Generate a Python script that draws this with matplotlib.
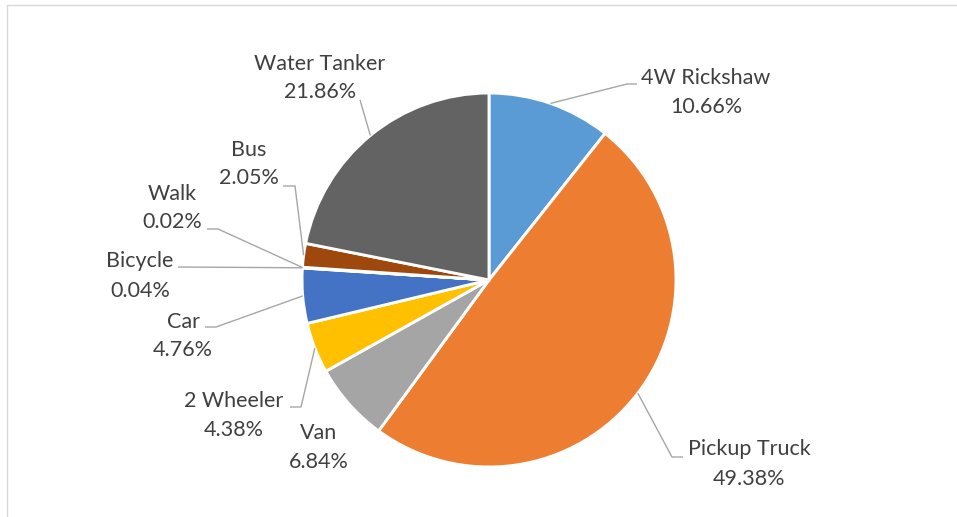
import numpy as np
import matplotlib.pyplot as plt

# transport mode shares (%), clockwise from 12 o'clock
modes = ["4W Rickshaw", "Pickup Truck", "Van", "2 Wheeler", "Car",
         "Bicycle", "Walk", "Bus", "Water Tanker"]
shares = [10.66, 49.38, 6.84, 4.38, 4.76, 0.04, 0.02, 2.05, 21.86]
colors = ["#5B9BD5", "#ED7D31", "#A5A5A5", "#FFC000", "#4472C4",
          "#70AD47", "#264478", "#9E480E", "#636363"]

W, H = 957, 517
cx, cy, r = 489, 280, 187   # pie centre and radius in pixels (y down)

# label layout in pixels: block centre x, first line y
label_pos = [(706, 78), (749, 449), (319, 433), (234, 401), (183, 322),
             (140, 261), (172, 194), (249, 150), (320, 64)]
line_gap = [29, 30, 29, 29, 28, 30, 28, 28, 28]
# leader start and elbow points (None = no leader)
leaders = [((637, 84), (627, 84)), ((683, 457), (672, 457)), None,
           ((290, 407), (301, 407)), ((205, 327), (216, 327)),
           ((178, 267), (178, 267)), ((207, 229), (218, 229)),
           ((283, 186), (295, 186)), ((360, 100), (360, 100))]

plt.rcParams['font.family'] = ['Lato', 'DejaVu Sans']

fig = plt.figure(figsize=(W / 100, H / 100), dpi=100)
ax = fig.add_axes([0, 0, 1, 1])

ax.pie(shares, colors=colors, startangle=90, counterclock=False,
       center=(cx, H - cy), radius=r,
       wedgeprops=dict(edgecolor='white', linewidth=2.1))
ax.set_xlim(0, W)
ax.set_ylim(0, H)
ax.set_aspect('auto')
ax.axis('off')

# chart border (only top and left visible)
ax.plot([6.5, 6.5, W], [0, H - 4.5, H - 4.5], color='#D9D9D9', lw=1.0)

text_color = '#404040'
cum = np.cumsum(shares) - np.array(shares) / 2
for i, name in enumerate(modes):
    lx, ly = label_pos[i]
    ax.text(lx, H - ly, name, ha='center', va='center', fontsize=15.5,
            color=text_color)
    ax.text(lx, H - ly - line_gap[i], f"{shares[i]:.2f}%", ha='center',
            va='center', fontsize=15.5, color=text_color)
    if leaders[i] is None:
        continue
    theta = np.deg2rad(cum[i] / 100 * 360)
    ex = cx + r * np.sin(theta)
    ey = cy - r * np.cos(theta)
    (sx, sy), (kx, ky) = leaders[i]
    ax.plot([sx, kx, ex], [H - sy, H - ky, H - ey], color='#A6A6A6', lw=1.0,
            solid_capstyle='butt')

fig.savefig('out.png', dpi=100)
